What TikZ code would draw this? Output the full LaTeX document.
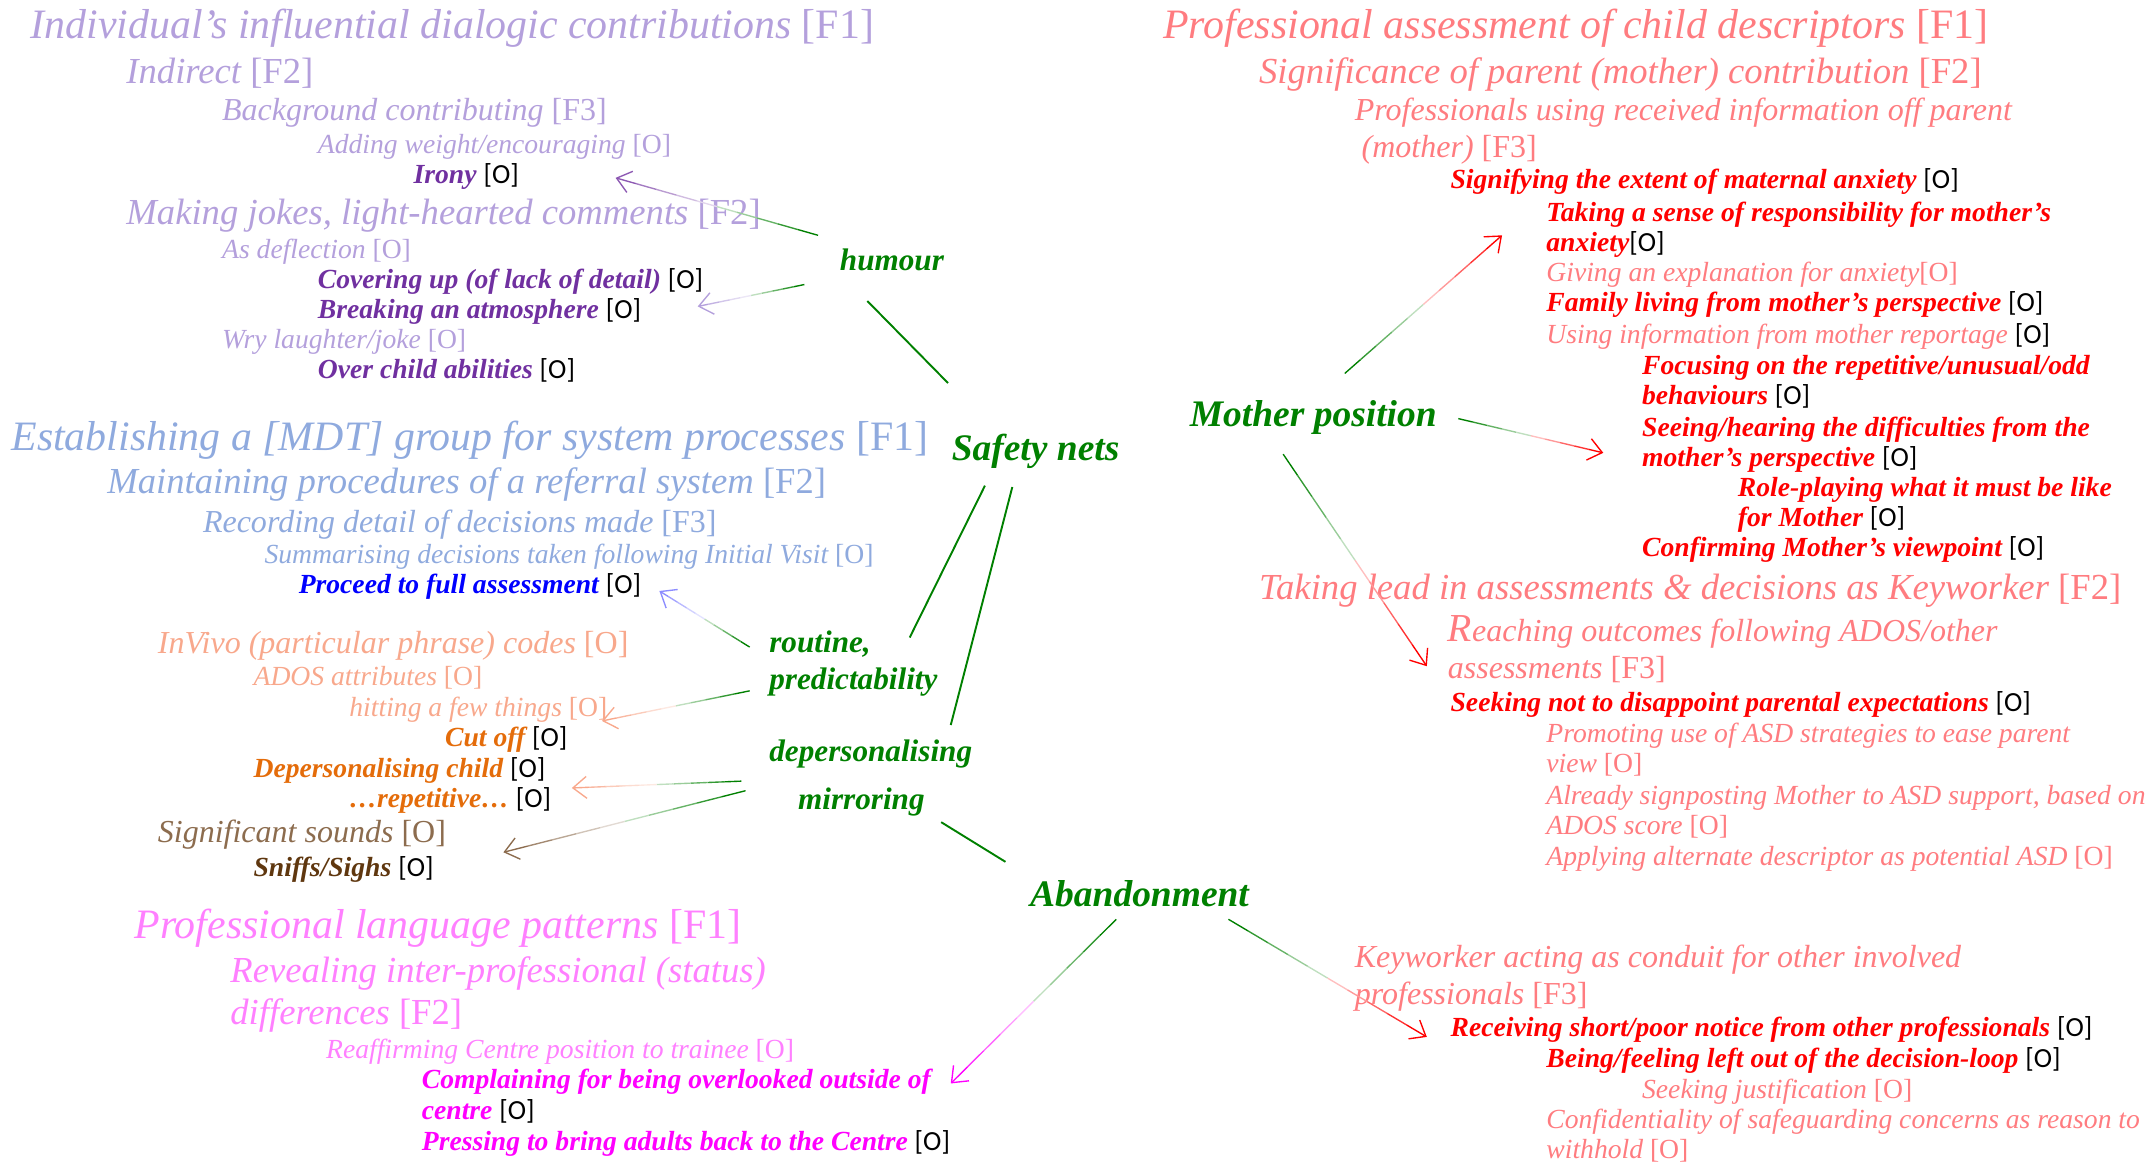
\documentclass[tikz,border=0pt]{standalone}
\usepackage{fontspec}
\setmainfont{Liberation Serif}
\newfontfamily\calib{Carlito}
\usetikzlibrary{calc,arrows.meta}

\definecolor{mygreen}{RGB}{0,128,0}
\definecolor{lilac}{RGB}{180,160,220}
\definecolor{plum}{RGB}{112,48,160}
\definecolor{sky}{RGB}{143,170,222}
\definecolor{peach}{RGB}{248,168,140}
\definecolor{amber}{RGB}{228,108,10}
\definecolor{tan}{RGB}{140,108,78}
\definecolor{cocoa}{RGB}{95,55,15}
\definecolor{rose}{RGB}{255,128,255}
\definecolor{fuchsia}{RGB}{255,0,255}
\definecolor{coral}{RGB}{255,124,128}
\definecolor{pure}{RGB}{255,0,0}

\newcommand\fc[1]{{\upshape[#1]}}
\newcommand\oc{{\upshape[O]}}
\newcommand\ob{{\calib\upshape\mdseries\color{black}[O]}}

\tikzset{
  txt/.style={anchor=base west, inner sep=0pt, align=left},
  fone/.style={txt, font=\fontsize{15.3}{18}\selectfont\itshape},
  ftwo/.style={txt, font=\fontsize{13.4}{15.5}\selectfont\itshape},
  fthree/.style={txt, font=\fontsize{11.7}{13.5}\selectfont\itshape},
  obs/.style={txt, font=\fontsize{10.1}{11}\selectfont\itshape},
  obsb/.style={txt, font=\fontsize{10.1}{11}\selectfont\bfseries\itshape},
  theme/.style={inner sep=0pt, text=mygreen, font=\fontsize{13.7}{16}\selectfont\bfseries\itshape},
  subtheme/.style={txt, text=mygreen, font=\fontsize{11.4}{13.5}\selectfont\bfseries\itshape},
  link/.style={mygreen, line width=0.7pt},
  fade/.style={line width=0.5pt},
}

\newcommand\fadearrow[3]{%
  \foreach \k/\p in {0/100,1/80,2/60,3/40,4/25}
    \draw[fade, draw=mygreen!\p!white] ($(#1)!\k/10!(#2)$) -- ($(#1)!\k/10+0.1!(#2)$);
  \foreach \k/\p in {5/25,6/40,7/60,8/80}
    \draw[fade, draw=#3!\p!white] ($(#1)!\k/10!(#2)$) -- ($(#1)!\k/10+0.1!(#2)$);
  \draw[fade, draw=#3, -{Straight Barb[length=5pt,width=8pt]}] ($(#1)!0.9!(#2)$) -- (#2);
}

\begin{document}
\begin{tikzpicture}[x=0.5pt,y=-0.5pt]
\path[use as bounding box] (0,0) rectangle (1568,852);

\node[fone, lilac] (indiv) at (22,28) {Individual’s influential dialogic contributions \fc{F1}};
\node[ftwo, lilac] (indirect) at (92,61) {Indirect \fc{F2}};
\node[fthree, lilac] (backgr) at (162,88) {Background contributing \fc{F3}};
\node[obs, lilac] (adding) at (232,112) {Adding weight/encouraging \oc};
\node[obsb, plum] (irony) at (302,134) {Irony \ob};
\node[ftwo, lilac] (jokes) at (92,164) {Making jokes, light-hearted comments \fc{F2}};
\node[obs, lilac] (deflect) at (162,189) {As deflection \oc};
\node[obsb, plum] (covering) at (232,211) {Covering up (of lack of detail) \ob};
\node[obsb, plum] (breaking) at (232,233) {Breaking an atmosphere \ob};
\node[obs, lilac] (wry) at (162,255) {Wry laughter/joke \oc};
\node[obsb, plum] (overchild) at (232,277) {Over child abilities \ob};

\node[fone, sky] (mdt) at (8,329) {Establishing a [MDT] group for system processes \fc{F1}};
\node[ftwo, sky] (referral) at (78,361) {Maintaining procedures of a referral system \fc{F2}};
\node[fthree, sky] (recording) at (148,389) {Recording detail of decisions made \fc{F3}};
\node[obs, sky] (summar) at (193,412) {Summarising decisions taken following Initial Visit \oc};
\node[obsb, blue] (proceed) at (218,434) {Proceed to full assessment \ob};

\node[fthree, peach] (invivo) at (115,478) {InVivo (particular phrase) codes \oc};
\node[obs, peach] (ados) at (185,501) {ADOS attributes \oc};
\node[obs, peach] (hitting) at (255,524) {hitting a few things \oc};
\node[obsb, amber] (cutoff) at (325,546) {Cut off \ob};
\node[obsb, amber] (depchild) at (185,568) {Depersonalising child \ob};
\node[obsb, amber] (repet) at (255,590) {…repetitive… \ob};
\node[fthree, tan] (sounds) at (115,616) {Significant sounds \oc};
\node[obsb, cocoa] (sniffs) at (185,641) {Sniffs/Sighs \ob};

\node[fone, rose] (langpat) at (98,686) {Professional language patterns \fc{F1}};
\node[ftwo, rose] (status) at (168,749) {Revealing inter-professional (status)\\differences \fc{F2}};
\node[obs, rose] (reaffirm) at (238,774) {Reaffirming Centre position to trainee \oc};
\node[obsb, fuchsia] (complain) at (308,818) {Complaining for being overlooked outside of\\centre \ob};
\node[obsb, fuchsia] (pressing) at (308,841) {Pressing to bring adults back to the Centre \ob};

\node[fone, coral] (descr) at (850,28) {Professional assessment of child descriptors \fc{F1}};
\node[ftwo, coral] (parent) at (920,61) {Significance of parent (mother) contribution \fc{F2}};
\node[fthree, coral] (received) at (990,115) {Professionals using received information off parent\\\hspace{2.5pt}(mother) \fc{F3}};
\node[obsb, pure] (anxext) at (1060,138) {Signifying the extent of maternal anxiety \ob};
\node[obsb, pure] (respons) at (1130,184) {Taking a sense of responsibility for mother’s\\anxiety\ob};
\node[obs, coral] (explan) at (1130,206) {Giving an explanation for anxiety\oc};
\node[obsb, pure] (family) at (1130,228) {Family living from mother’s perspective \ob};
\node[obs, coral] (reportage) at (1130,251) {Using information from mother reportage \ob};
\node[obsb, pure] (focusing) at (1200,296) {Focusing on the repetitive/unusual/odd\\behaviours \ob};
\node[obsb, pure] (seeing) at (1200,341) {Seeing/hearing the difficulties from the\\mother’s perspective \ob};
\node[obsb, pure] (roleplay) at (1270,385) {Role-playing what it must be like\\for Mother \ob};
\node[obsb, pure] (confirm) at (1200,407) {Confirming Mother’s viewpoint \ob};
\node[ftwo, coral] (keylead) at (920,438) {Taking lead in assessments \& decisions as Keyworker \fc{F2}};
\node[fthree, coral] (reaching) at (1058,496) {{\fontsize{14.5}{13.5}\selectfont R}eaching outcomes following ADOS/other\\assessments \fc{F3}};
\node[obsb, pure] (disappoint) at (1060,520) {Seeking not to disappoint parental expectations \ob};
\node[obs, coral] (promoting) at (1130,565) {Promoting use of ASD strategies to ease parent\\view \oc};
\node[obs, coral] (signpost) at (1130,610) {Already signposting Mother to ASD support, based on\\ADOS score \oc};
\node[obs, coral] (altdesc) at (1130,633) {Applying alternate descriptor as potential ASD \oc};
\node[fthree, coral] (conduit) at (990,734) {Keyworker acting as conduit for other involved\\professionals \fc{F3}};
\node[obsb, pure] (shortnotice) at (1060,758) {Receiving short/poor notice from other professionals \ob};
\node[obsb, pure] (leftout) at (1130,780) {Being/feeling left out of the decision-loop \ob};
\node[obs, coral] (justif) at (1200,803) {Seeking justification \oc};
\node[obs, coral] (confid) at (1130,847) {Confidentiality of safeguarding concerns as reason to\\withhold \oc};

\node[theme] (safety) at (757,330) {Safety nets};
\node[theme] (mother) at (960,305) {Mother position};
\node[theme] (abandon) at (833,653) {Abandonment};
\node[subtheme, anchor=center] (humour) at (652,190) {humour};
\node[subtheme] (routine) at (562,504) {routine,\\predictability};
\node[subtheme] (depers) at (562,557) {depersonalising};
\node[subtheme] (mirror) at (583,592) {mirroring};

\coordinate (hu1) at (634,220); \coordinate (sa1) at (693,280);
\coordinate (sa2) at (720,355); \coordinate (ro1) at (665,466);
\coordinate (sa3) at (740,356); \coordinate (de1) at (695,530);
\coordinate (mi1) at (688,601); \coordinate (ab1) at (735,630);
\draw[link] (hu1) -- (sa1);
\draw[link] (sa2) -- (ro1);
\draw[link] (sa3) -- (de1);
\draw[link] (mi1) -- (ab1);

\coordinate (hu2) at (598,172); \coordinate (ir1) at (450,130);
\coordinate (hu3) at (588,208); \coordinate (br1) at (510,224);
\coordinate (ro2) at (548,473); \coordinate (pr1) at (482,432);
\coordinate (ro3) at (548,505); \coordinate (hi1) at (440,527);
\coordinate (de2) at (542,571); \coordinate (re1) at (418,576);
\coordinate (mi2) at (545,578); \coordinate (so1) at (368,623);
\coordinate (ab2) at (816,672); \coordinate (co1) at (695,792);
\coordinate (ab3) at (898,672); \coordinate (sh1) at (1043,758);
\coordinate (mo1) at (983,273); \coordinate (rs1) at (1098,172);
\coordinate (mo2) at (1066,306); \coordinate (se1) at (1172,331);
\coordinate (mo3) at (938,332); \coordinate (rc1) at (1043,487);
\fadearrow{hu2}{ir1}{plum!80!white}
\fadearrow{hu3}{br1}{lilac}
\fadearrow{ro2}{pr1}{blue!45!white}
\fadearrow{ro3}{hi1}{peach}
\fadearrow{de2}{re1}{peach}
\fadearrow{mi2}{so1}{tan}
\fadearrow{ab2}{co1}{fuchsia}
\fadearrow{ab3}{sh1}{pure}
\fadearrow{mo1}{rs1}{pure}
\fadearrow{mo2}{se1}{pure}
\fadearrow{mo3}{rc1}{pure}
\end{tikzpicture}
\end{document}
